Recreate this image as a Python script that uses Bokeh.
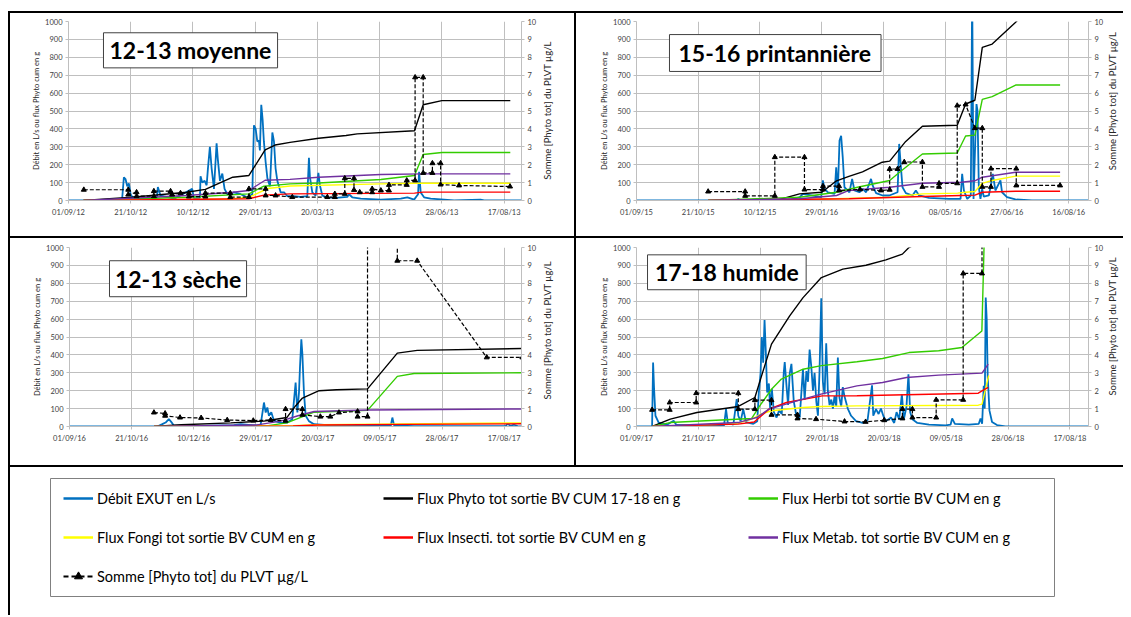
import math
import numpy as np
import pandas as pd
from bokeh.plotting import figure
from bokeh.models import (Range1d, LinearAxis, FixedTicker, DatetimeTickFormatter,
                          Label, BoxAnnotation, Legend, LegendItem, Spacer)
from bokeh.layouts import column, row
from bokeh.embed import file_html
from bokeh.resources import INLINE

# ------------------------------------------------------------------ labels
legend_labels = ["Débit EXUT en L/s",
                 "Flux Phyto tot sortie BV CUM 17-18 en g",
                 "Flux Herbi tot sortie BV CUM en g",
                 "Flux Fongi tot sortie BV CUM en g",
                 "Flux Insecti. tot sortie BV CUM en g",
                 "Flux Metab. tot sortie BV CUM en g",
                 "Somme [Phyto tot] du PLVT µg/L"]
left_title = "Débit en L/s ou flux Phyto cum en g"
right_title = "Somme [Phyto tot] du PLVT µg/L"
left_ticks = list(range(0, 1001, 100))
right_ticks = list(range(0, 11))

# x values are days counted from the first day of each hydrological year
# ================= Panel 1 : 12-13 moyenne =================
p1_title = "12-13 moyenne"
p1_start, p1_end = "2012-09-01", "2013-08-31"
p1_ticks = ["01/09/12", "21/10/12", "10/12/12", "29/01/13", "20/03/13", "09/05/13", "28/06/13", "17/08/13"]
p1_flow_day = [0, 43, 44.5, 45.8, 47.2, 48.5, 49.9, 51.2, 60, 71, 71.8, 74, 85, 99.4, 100.8, 105.6, 106.1, 107.5, 109.4, 111,
               112, 113.6, 115, 116.9, 119, 120, 121.7, 123.6, 125.4, 127.6, 133, 138.3, 143.7, 147.7, 149, 150.4, 151.7, 153, 153.8, 154.9,
               156, 157, 158.4, 159.8, 161.9, 163.8, 165.1, 166.4, 167.8, 170.5, 173.2, 175.8, 181, 186.5, 191.9, 193.2, 194, 195.9, 198.6, 200.8,
               202, 204, 208, 214.7, 224, 225.4, 228, 234.8, 250.9, 267, 272.3, 277.7, 280.9, 281.7, 283, 285.7, 291, 301.8, 309.8, 331, 334, 364]
p1_flow = [0, 0, 130, 120, 80, 95, 35, 20, 12, 15, 75, 27, 10, 65, 12, 15, 135, 100, 110, 85,
           175, 300, 180, 65, 320, 230, 110, 150, 65, 35, 45, 35, 18, 35, 420, 400, 330, 335, 280, 535,
           450, 330, 215, 125, 80, 380, 330, 180, 110, 45, 45, 25, 25, 20, 25, 238, 130, 45, 27, 155,
           85, 27, 18, 15, 20, 35, 18, 10, 5, 10, 18, 5, 35, 160, 45, 18, 10, 5, 0, 5, 0, 0]
p1_phyto_day = [12, 51, 95, 110, 132, 145, 158, 166, 178, 201, 223, 232, 278, 285, 300, 355]
p1_phyto = [0, 18, 46, 62, 130, 140, 283, 310, 325, 348, 363, 372, 390, 535, 558, 558]
p1_herbi_day = [12, 95, 145, 157, 178, 201, 251, 278, 285, 300, 355]
p1_herbi = [0, 18, 37, 80, 93, 98, 117, 140, 257, 268, 268]
p1_fongi_day = [12, 130, 145, 160, 178, 251, 278, 355]
p1_fongi = [0, 8, 18, 67, 81, 93, 96, 96]
p1_insecti_day = [12, 145, 157, 178, 278, 285, 355]
p1_insecti = [0, 10, 30, 37, 41, 47, 47]
p1_metab_day = [12, 95, 132, 145, 158, 178, 201, 251, 285, 355]
p1_metab = [0, 28, 46, 56, 113, 118, 130, 145, 149, 149]
p1_conc_day = [12.3, 48, 48, 54.7, 54.7, 68.6, 68.6, 82, 83.3, 90, 96.7, 96.7, 110, 110, 130, 130, 145, 145, 158.4, 158.4,
               166.4, 179.8, 208, 214, 214, 222, 222, 229.4, 229.4, 234, 244, 244, 251, 257.5, 257.5, 271.8, 271.8, 278.5, 278.5, 285,
               285, 292.4, 292.4, 299, 299, 313.8, 354.8]
p1_conc = [0.6, 0.6, 0.33, 0.46, 0.24, 0.24, 0.52, 0.52, 0.33, 0.41, 0.41, 0.22, 0.22, 0.41, 0.41, 0.19, 0.19, 0.65, 0.65, 0.28,
           0.28, 0.19, 0.19, 0.19, 0.37, 0.37, 1.24, 1.24, 0.59, 0.46, 0.46, 0.65, 0.56, 0.56, 0.87, 0.87, 1.12, 1.12, 6.88, 6.88,
           1.54, 1.54, 2.08, 2.08, 0.89, 0.84, 0.78]

# ================= Panel 2 : 15-16 printannière =================
p2_title = "15-16 printannière"
p2_start, p2_end = "2015-09-01", "2016-09-01"
p2_ticks = ["01/09/15", "21/10/15", "10/12/15", "29/01/16", "19/03/16", "08/05/16", "27/06/16", "16/08/16"]
p2_flow_day = [0, 81, 82.5, 84, 125, 132.2, 134.8, 149.6, 150.9, 152.3, 155, 160.4, 161.7, 163, 164.4, 165.7, 167, 168.4, 172.4, 174.6,
               176.5, 180.5, 183.2, 185.9, 189.9, 191.2, 194, 199.3, 204.7, 211.4, 212.7, 214.1, 215.4, 218.1, 223.5, 226.2, 228.8, 236.9, 253, 262.4,
               263.7, 265.1, 267.8, 270.7, 271.3, 271.8, 272.9, 274.5, 275.3, 276.1, 277.2, 278.5, 279.9, 281.2, 285.3, 287.4, 288.5, 290.6, 294.7, 296,
               300, 306.8, 320.2, 366]
p2_flow = [0, 0, 9, 0, 5, 19, 37, 19, 112, 65, 46, 37, 186, 46, 335, 362, 242, 74, 46, 121,
           56, 46, 65, 46, 121, 84, 41, 28, 28, 46, 316, 186, 74, 41, 28, 56, 28, 15, 9, 9,
           149, 56, 9, 28, 632, 1180, 9, 372, 539, 502, 74, 9, 65, 22, 28, 102, 149, 56, 112, 46,
           19, 6, 0, 0]
p2_phyto_day = [58, 113, 132, 150, 162, 172, 183, 199, 205, 218, 231.5, 259.7, 266.5, 274, 280, 288, 306.8, 343]
p2_phyto = [0, 0, 37, 46, 110, 135, 160, 214, 220, 330, 415, 420, 539, 560, 855, 874, 995, 1230]
p2_herbi_day = [58, 132, 162, 179, 205, 213, 231.5, 259.7, 266.5, 274, 280, 288, 307, 343]
p2_herbi = [0, 18, 46, 74, 112, 158, 260, 265, 360, 365, 565, 580, 645, 645]
p2_fongi_day = [58, 113, 205, 231.5, 260, 266.5, 274, 280, 288, 307, 343]
p2_fongi = [0, 0, 18, 37, 41, 46, 50, 96, 112, 136, 136]
p2_insecti_day = [58, 172, 231.5, 263, 274, 280, 307, 343]
p2_insecti = [0, 10, 22, 28, 30, 46, 52, 52]
p2_metab_day = [58, 132, 162, 172, 205, 231.5, 263, 274, 280, 307, 343]
p2_metab = [0, 10, 28, 56, 74, 96, 102, 110, 130, 158, 158]
p2_conc_day = [58, 88, 88, 112, 112, 136, 136, 151, 151, 164, 164, 181, 198, 205, 205, 211.4, 216.8, 231.5, 231.5, 245,
               245, 259.7, 259.7, 266.5, 274, 280, 280, 287, 287, 307.5, 307.5, 343]
p2_conc = [0.5, 0.5, 0.26, 0.26, 2.42, 2.42, 0.61, 0.61, 0.8, 0.8, 0.56, 0.62, 0.56, 0.6, 1.76, 1.76, 2.15, 2.15, 0.76, 0.76,
           0.96, 0.96, 5.3, 5.36, 4.04, 4.04, 0.76, 0.76, 1.78, 1.78, 0.84, 0.84]

# ================= Panel 3 : 12-13 sèche =================
p3_title = "12-13 sèche"
p3_start, p3_end = "2016-09-01", "2017-08-31"
p3_ticks = ["01/09/16", "21/10/16", "10/12/16", "29/01/17", "20/03/17", "09/05/17", "28/06/17", "17/08/17"]
p3_flow_day = [0, 70.7, 74.7, 77.4, 80, 81.9, 84, 105.6, 132.4, 137.8, 148.5, 153.9, 156.6, 158, 159.3, 160.6, 162.5, 164.6, 170, 175.4,
               179.4, 182.1, 183.5, 184.8, 185.6, 186.7, 187.5, 188.8, 190.2, 192.8, 196.9, 210.3, 237.2, 258.7, 260, 261.4, 277.5, 351.3, 352.7, 355.4,
               358, 360.8, 364]
p3_flow = [0, 0, 13, 22, 41, 26, 6, 3, 8, 13, 6, 8, 134, 78, 106, 60, 80, 33, 20, 22,
           41, 246, 78, 190, 330, 487, 410, 190, 60, 30, 13, 6, 3, 3, 50, 6, 2, 3, 15, 3,
           10, 2, 0]
p3_phyto_day = [68, 90, 130, 156.6, 170, 175, 182, 187.6, 201, 215, 240, 264, 280, 364.7]
p3_phyto = [0, 10, 20, 30, 45, 50, 115, 159, 200, 205, 210, 410, 425, 436]
p3_herbi_day = [68, 160, 175, 197, 240, 264, 277.5, 364.7]
p3_herbi = [0, 5, 20, 80, 90, 280, 296, 300]
p3_fongi_day = [68, 180, 200, 364.7]
p3_fongi = [0, 5, 10, 20]
p3_insecti_day = [68, 180, 200, 270, 364.7]
p3_insecti = [0, 3, 8, 12, 15]
p3_metab_day = [68, 150, 170, 184, 197, 240, 364.7]
p3_metab = [0, 8, 30, 60, 84, 92, 98]
p3_conc_day = [68, 77, 77, 89, 106, 127, 148, 162, 174, 174, 187.5, 187.5, 202, 210, 217, 232, 232, 240, 240, 264,
               264, 280, 336, 364.7]
p3_conc = [0.78, 0.73, 0.6, 0.5, 0.48, 0.36, 0.33, 0.36, 0.32, 0.97, 0.97, 0.65, 0.55, 0.55, 0.78, 0.84, 0.55, 0.55, 20, 20,
           9.26, 9.26, 3.86, 3.86]

# ================= Panel 4 : 17-18 humide =================
p4_title = "17-18 humide"
p4_start, p4_end = "2017-09-01", "2018-09-01"
p4_ticks = ["01/09/17", "21/10/17", "10/12/17", "29/01/18", "20/03/18", "09/05/18", "28/06/18", "17/08/18"]
p4_flow_day = [0, 12.6, 13.4, 14.2, 15.3, 17.9, 24.6, 30, 32.1, 54.1,
               70.7, 72.3, 73.7, 78.2, 80.9, 82.2, 84.1, 86.2, 88.4, 94.3,
               97.5, 98.8, 100.2, 101.2, 102.3, 103.4, 104.5, 105.5, 106.9, 107.9,
               109.3, 110.9, 113.1, 115.2, 117.3, 118.9, 119.7, 121.1, 122.4, 123.7,
               125.1, 127, 129.1, 131.8, 134.4, 135.8, 137.2, 138.5, 139.8, 141.2,
               142.5, 143.8, 145.2, 146.5, 147.8, 149.2, 150.5, 151.9, 153.2, 154.5,
               155.9, 157.3, 158.6, 159.9, 161.3, 162.6, 163.9, 165.3, 166.6, 167.9,
               170.6, 173.3, 177.3, 182.6, 186.6, 190.2, 191.2, 193.4, 195.5, 197.4,
               199.3, 201.4, 205.5, 208.1, 210, 212.1, 214.3, 215.9, 218, 219.6,
               221, 222.8, 226.8, 236.2, 249.6, 253.6, 254.9, 257.1, 268.4, 276.4,
               277.8, 279.1, 280.4, 281.2, 282, 282.8, 283.6, 285, 287.1, 291.1,
               297.9, 365]
p4_flow = [0, 0, 357, 210, 60, 22, 10, 32, 10, 6,
           6, 97, 20, 10, 153, 60, 30, 97, 25, 15,
           30, 190, 300, 500, 357, 595, 400, 190, 240, 100,
           210, 80, 50, 90, 70, 300, 360, 230, 120, 295,
           350, 140, 60, 50, 320, 150, 310, 250, 430, 330,
           200, 300, 140, 60, 310, 717, 250, 180, 465, 200,
           120, 150, 100, 170, 110, 385, 160, 110, 220, 170,
           100, 60, 30, 20, 35, 230, 60, 97, 70, 100,
           60, 30, 50, 20, 80, 40, 180, 40, 110, 292,
           80, 40, 20, 10, 6, 10, 45, 15, 10, 15,
           45, 15, 227, 100, 720, 600, 280, 90, 25, 8,
           0, 0]
p4_phyto_day = [12.6, 27.3, 48.8, 82.2, 95.6, 101, 109, 123.7, 134.5, 149.3, 166.6, 185.3, 201.4, 214.7, 220, 284]
p4_phyto = [0, 41, 78, 112, 162, 283, 460, 618, 720, 832, 879, 901, 931, 963, 1000, 1200]
p4_herbi_day = [12.6, 27, 93, 101, 109, 117, 134.5, 149.3, 178, 198.7, 220, 244, 262.8, 278.9, 281]
p4_herbi = [0, 22, 45, 130, 208, 265, 320, 340, 362, 380, 413, 423, 441, 534, 1100]
p4_fongi_day = [12.6, 80, 93, 101, 109, 134.5, 149, 178, 276, 279, 284.4]
p4_fongi = [0, 15, 41, 70, 88, 106, 112, 115, 119, 125, 285]
p4_insecti_day = [12.6, 82, 95, 107, 121, 150, 178, 276, 279, 284]
p4_insecti = [0, 13, 25, 97, 134, 171, 172, 186, 199, 218]
p4_metab_day = [12.6, 82, 97, 107, 134.5, 149, 178, 198.7, 218, 244, 279, 284]
p4_metab = [0, 22, 50, 97, 153, 181, 227, 246, 274, 287, 298, 348]
p4_conc_day = [12.6, 26.8, 26.8, 48.2, 48.2, 82.2, 82.2, 95.6, 95.6, 109, 109, 130, 130, 145, 168, 185, 200, 214.7, 214.7, 222.8,
               222.8, 242, 242, 263.8, 263.8, 279, 279]
p4_conc = [0.93, 0.93, 1.34, 1.34, 1.86, 1.86, 0.97, 0.97, 1.47, 1.47, 0.65, 0.65, 0.45, 0.41, 0.28, 0.26, 0.35, 0.45, 0.97, 0.97,
           0.5, 0.5, 1.49, 1.49, 8.55, 8.55, 20]

# ------------------------------------------------------------------ style
FONT = "Lato"
GRID = "#BFBFBF"
TXT = "#404040"
C_FLOW, C_PHYTO, C_HERBI = "#0070C0", "#000000", "#33CC00"
C_FONGI, C_INSECT, C_METAB = "#FFFF00", "#FF0000", "#7030A0"


def to_dates(start, days):
    return (pd.Timestamp(start) + pd.to_timedelta(np.asarray(days, dtype=float), unit="D")).values


def to_ms(ts):
    return (pd.Timestamp(ts) - pd.Timestamp("1970-01-01")) / pd.Timedelta(milliseconds=1)


def style_axis(ax):
    ax.axis_line_color = GRID
    ax.major_tick_line_color = GRID
    ax.major_tick_out = 3
    ax.major_tick_in = 0
    ax.minor_tick_line_color = None
    ax.major_label_text_font = FONT
    ax.major_label_text_font_size = "7.5px"
    ax.major_label_text_color = TXT
    ax.major_label_standoff = 3
    ax.axis_label_text_font = FONT
    ax.axis_label_text_font_style = "normal"
    ax.axis_label_text_font_size = "7.5px"
    ax.axis_label_text_color = "#262626"


def make_panel(start, end, ticks, flow_day, flow, series, conc_day, conc, title,
               box, width, height, mb):
    p = figure(width=width, height=height, x_axis_type="datetime",
               x_range=Range1d(to_ms(start), to_ms(end)), y_range=Range1d(0, 1000),
               output_backend="svg", toolbar_location=None,
               min_border_left=mb[0], min_border_right=mb[1],
               min_border_top=mb[2], min_border_bottom=mb[3])
    p.outline_line_color = None
    p.background_fill_color = "white"
    p.border_fill_color = "white"

    xt = FixedTicker(ticks=[to_ms(pd.to_datetime(t, format="%d/%m/%y")) for t in ticks])
    p.xaxis.ticker = xt
    p.xgrid.ticker = xt
    p.xaxis.formatter = DatetimeTickFormatter(days="%d/%m/%y", months="%d/%m/%y", years="%d/%m/%y")
    yt = FixedTicker(ticks=left_ticks)
    p.yaxis.ticker = yt
    p.ygrid.ticker = yt
    p.grid.grid_line_color = GRID
    p.grid.grid_line_width = 1
    for ax in p.xaxis:
        style_axis(ax)
        ax.major_label_standoff = 4
    for ax in p.yaxis:
        style_axis(ax)
        ax.axis_label = left_title
        ax.axis_label_standoff = 1

    p.extra_y_ranges = {"conc": Range1d(0, 10)}
    rax = LinearAxis(y_range_name="conc", ticker=FixedTicker(ticks=right_ticks))
    style_axis(rax)
    p.add_layout(rax, "right")

    p.line(to_dates(start, flow_day), flow, line_color=C_FLOW, line_width=1.8)
    for d, v, col in series:
        p.line(to_dates(start, d), v, line_color=col, line_width=1.4)
    cx = to_dates(start, conc_day)
    p.line(cx, conc, line_color="black", line_width=1.2, line_dash="4 2", y_range_name="conc")
    p.scatter(cx, conc, marker="triangle", size=5, color="black", y_range_name="conc")

    t0 = pd.Timestamp(start)
    b0, b1, yb, yt_, xc, yc = box
    p.add_layout(BoxAnnotation(left=to_ms(t0 + pd.Timedelta(days=b0)), right=to_ms(t0 + pd.Timedelta(days=b1)),
                               bottom=yb, top=yt_, fill_color="white", fill_alpha=1.0,
                               line_color="#404040", line_width=1, line_alpha=1.0))
    p.add_layout(Label(x=to_ms(t0 + pd.Timedelta(days=xc)), y=yc, text=title,
                       text_align="center", text_baseline="middle", text_font=FONT,
                       text_font_style="bold", text_font_size="23px", text_color="black"))
    return p


def right_title_strip(width, height, xpos, ypos):
    # narrow strip holding the secondary-axis title, reading bottom to top
    f = figure(width=width, height=height, x_range=Range1d(0, width), y_range=Range1d(0, height),
               output_backend="svg", toolbar_location=None,
               x_axis_location=None, y_axis_location=None, min_border=0)
    f.grid.visible = False
    f.outline_line_color = None
    f.add_layout(Label(x=xpos, y=ypos, text=right_title, angle=math.pi / 2,
                       text_align="center", text_baseline="middle", text_font=FONT,
                       text_font_size="9.5px", text_color="#262626"))
    return f


p1 = make_panel(p1_start, p1_end, p1_ticks, p1_flow_day, p1_flow,
                [(p1_phyto_day, p1_phyto, C_PHYTO), (p1_herbi_day, p1_herbi, C_HERBI),
                 (p1_fongi_day, p1_fongi, C_FONGI), (p1_insecti_day, p1_insecti, C_INSECT),
                 (p1_metab_day, p1_metab, C_METAB)],
                p1_conc_day, p1_conc, p1_title, (28.1, 168, 741, 937, 98, 839),
                530, 223, (58, 19, 8, 36))
p2 = make_panel(p2_start, p2_end, p2_ticks, p2_flow_day, p2_flow,
                [(p2_phyto_day, p2_phyto, C_PHYTO), (p2_herbi_day, p2_herbi, C_HERBI),
                 (p2_fongi_day, p2_fongi, C_FONGI), (p2_insecti_day, p2_insecti, C_INSECT),
                 (p2_metab_day, p2_metab, C_METAB)],
                p2_conc_day, p2_conc, p2_title, (26.7, 198, 721, 927, 112, 824),
                530, 223, (60, 17, 8, 36))
p3 = make_panel(p3_start, p3_end, p3_ticks, p3_flow_day, p3_flow,
                [(p3_phyto_day, p3_phyto, C_PHYTO), (p3_herbi_day, p3_herbi, C_HERBI),
                 (p3_fongi_day, p3_fongi, C_FONGI), (p3_insecti_day, p3_insecti, C_INSECT),
                 (p3_metab_day, p3_metab, C_METAB)],
                p3_conc_day, p3_conc, p3_title, (32.2, 142.6, 725, 926, 87.4, 825),
                530, 227, (59, 19, 9, 39))
p4 = make_panel(p4_start, p4_end, p4_ticks, p4_flow_day, p4_flow,
                [(p4_phyto_day, p4_phyto, C_PHYTO), (p4_herbi_day, p4_herbi, C_HERBI),
                 (p4_fongi_day, p4_fongi, C_FONGI), (p4_insecti_day, p4_insecti, C_INSECT),
                 (p4_metab_day, p4_metab, C_METAB)],
                p4_conc_day, p4_conc, p4_title, (8.9, 137, 764, 959, 73, 861),
                530, 227, (60, 17, 9, 39))

t1 = right_title_strip(34, 223, 7, 112)
t2 = right_title_strip(17, 223, 6, 124)
t3 = right_title_strip(34, 227, 7, 122)
t4 = right_title_strip(17, 227, 6, 127)

# ------------------------------------------------------------------ legend area
leg = figure(width=1113, height=148, x_range=Range1d(0, 1), y_range=Range1d(0, 1),
             output_backend="svg", toolbar_location=None,
             x_axis_location=None, y_axis_location=None,
             min_border_left=40, min_border_right=69, min_border_top=11, min_border_bottom=19)
leg.grid.visible = False
leg.outline_line_color = "#808080"
leg.outline_line_width = 1
dx, dy = [-3, -2], [-3, -2]
r_flow = leg.line(dx, dy, line_color=C_FLOW, line_width=2.5)
r_phyto = leg.line(dx, dy, line_color=C_PHYTO, line_width=2.5)
r_herbi = leg.line(dx, dy, line_color=C_HERBI, line_width=2.5)
r_fongi = leg.line(dx, dy, line_color=C_FONGI, line_width=2.5)
r_insect = leg.line(dx, dy, line_color=C_INSECT, line_width=2.5)
r_metab = leg.line(dx, dy, line_color=C_METAB, line_width=2.5)
r_conc_l = leg.line(dx, dy, line_color="black", line_width=2, line_dash="5 3")
r_conc_m = leg.scatter(dx, dy, marker="triangle", size=6, color="black")


def add_legend(items, vx, vy):
    lg = Legend(items=items, location=(vx, vy), orientation="vertical", padding=0, margin=0,
                spacing=19, glyph_width=30, glyph_height=20, label_height=20, label_standoff=4,
                border_line_color=None, background_fill_alpha=0,
                label_text_font=FONT, label_text_font_size="14.5px", label_text_color="black")
    leg.add_layout(lg)


add_legend([LegendItem(label=legend_labels[0], renderers=[r_flow]),
            LegendItem(label=legend_labels[3], renderers=[r_fongi]),
            LegendItem(label=legend_labels[6], renderers=[r_conc_l, r_conc_m])], 13, 10)
add_legend([LegendItem(label=legend_labels[1], renderers=[r_phyto]),
            LegendItem(label=legend_labels[4], renderers=[r_insect])], 333, 49)
add_legend([LegendItem(label=legend_labels[2], renderers=[r_herbi]),
            LegendItem(label=legend_labels[5], renderers=[r_metab])], 698, 49)


# ------------------------------------------------------------------ table borders
def bar(w, h):
    return Spacer(width=w, height=h, styles={"background-color": "black"})


table = column(
    Spacer(width=1115, height=11),
    bar(1115, 2),
    row(bar(2, 223), p1, t1, bar(2, 223), p2, t2),
    bar(1115, 2),
    row(bar(2, 227), p3, t3, bar(2, 227), p4, t4),
    bar(1115, 2),
    row(bar(2, 148), leg),
)
layout = row(Spacer(width=8, height=10), table)

open("out.html", "w").write(file_html(layout, INLINE))
